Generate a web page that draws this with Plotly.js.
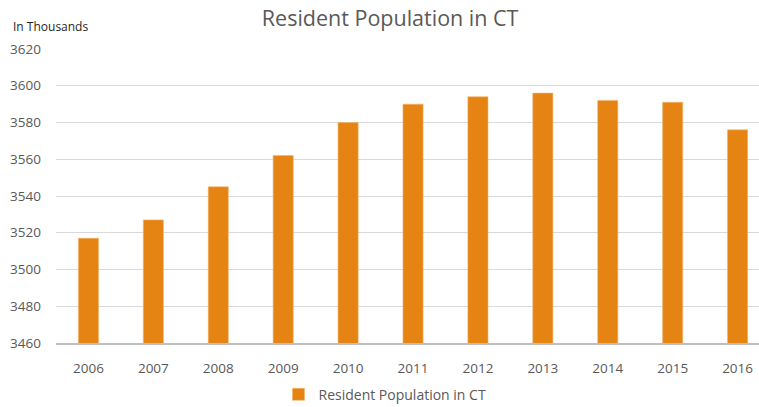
<!DOCTYPE html>
<html>
<head>
<meta charset="utf-8">
<script src="https://cdn.plot.ly/plotly-3.0.1.min.js"></script>
<style>html,body{margin:0;padding:0;background:#fff;}#chart{width:759px;height:407px;}</style>
</head>
<body>
<div id="chart"></div>
<script>
const years = ['2006','2007','2008','2009','2010','2011','2012','2013','2014','2015','2016'];
const population = [3517, 3527, 3545, 3562, 3580, 3590, 3594, 3596, 3592, 3591, 3576];
const yTicks = [3460, 3480, 3500, 3520, 3540, 3560, 3580, 3600, 3620];
const seriesName = 'Resident Population in CT';

const font = '"Open Sans", "Liberation Sans", sans-serif';
const trace = {
  type: 'bar',
  x: years,
  y: population,
  name: seriesName,
  width: 0.31,
  marker: {color: '#E68413', line: {color: '#F2B36B', width: 0.6}},
  hoverinfo: 'x+y'
};
const layout = {
  width: 759, height: 407,
  margin: {l: 56, r: 0, t: 49, b: 64, pad: 0, autoexpand: false},
  paper_bgcolor: '#ffffff', plot_bgcolor: '#ffffff',
  font: {family: font, color: '#595959', size: 13},
  title: {text: 'Resident Population in CT', font: {family: font, size: 21.5, color: '#595959'}, x: 0.514, xanchor: 'center', y: 0.955, yanchor: 'middle'},
  showlegend: true,
  legend: {orientation: 'h', x: 0.468, xanchor: 'center', y: -0.176, yanchor: 'middle', font: {family: font, size: 14, color: '#595959'}, itemwidth: 30},
  xaxis: {
    type: 'category', range: [-0.5, 10.33], showgrid: false, zeroline: false,
    showline: true, linecolor: '#BFBFBF', linewidth: 1.5, ticks: '',
    tickfont: {family: font, size: 13.5, color: '#595959'}, ticklabelstandoff: 12
  },
  yaxis: {
    range: [3460, 3620], tickvals: yTicks, ticktext: yTicks.map(String),
    showgrid: true, gridcolor: '#D9D9D9', gridwidth: 1, zeroline: false,
    showline: false, ticks: '', ticklabelstandoff: 14,
    tickfont: {family: font, size: 13.5, color: '#595959'}
  },
  annotations: [{
    text: 'In Thousands', xref: 'paper', yref: 'paper', x: -0.064, y: 1.077,
    xanchor: 'left', yanchor: 'middle', showarrow: false,
    font: {family: font, size: 12, color: '#262626'}
  }],
  bargap: 0.69
};
Plotly.newPlot('chart', [trace], layout, {displayModeBar: false, staticPlot: true});
</script>
</body>
</html>
